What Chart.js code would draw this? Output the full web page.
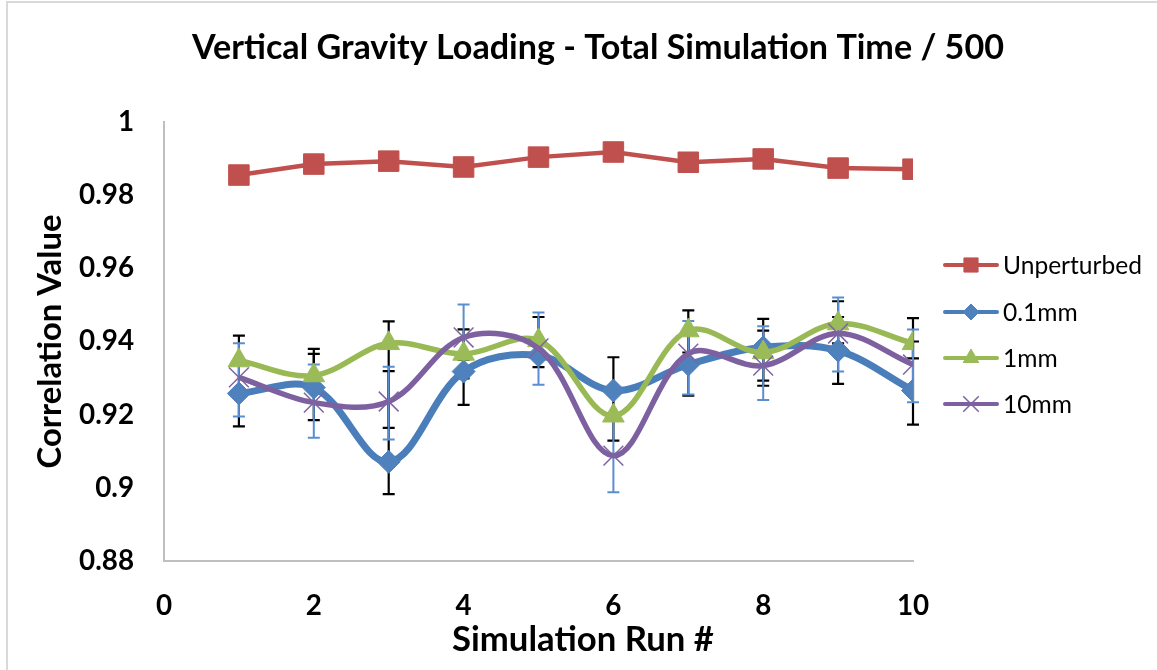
<!DOCTYPE html>
<html>
<head>
<meta charset="utf-8">
<script src="https://cdn.jsdelivr.net/npm/chart.js@4.4.1/dist/chart.umd.min.js"></script>
<style>
html,body{margin:0;padding:0;background:#ffffff;}
#wrap{width:1157px;height:670px;position:relative;overflow:hidden;}
canvas{display:block;}
</style>
</head>
<body>
<div id="wrap"><canvas id="c" width="1157" height="670"></canvas></div>
<script>
// ---------- data ----------
const runs = [1, 2, 3, 4, 5, 6, 7, 8, 9, 10];
const seriesNames = ['Unperturbed', '0.1mm', '1mm', '10mm'];
const unperturbed = [0.9855, 0.9885, 0.9893, 0.9877, 0.9904, 0.9918, 0.9890, 0.9899, 0.9874, 0.9871];
const mm01 = [0.9258, 0.9274, 0.9071, 0.9318, 0.9362, 0.9266, 0.9337, 0.9384, 0.9375, 0.9266];
const mm1 = [0.9348, 0.9307, 0.9395, 0.9366, 0.9403, 0.9197, 0.9430, 0.9370, 0.9449, 0.9395];
const mm10 = [0.9302, 0.9233, 0.9236, 0.9411, 0.9381, 0.9088, 0.9367, 0.9334, 0.9422, 0.9337];
// error bars (upper / lower ends)
const errBlueHigh = [0.9395, 0.9337, 0.9331, 0.9501, 0.9479, 0.9186, 0.9456, 0.9442, 0.9520, 0.9433];
const errBlueLow  = [0.9195, 0.9137, 0.9132, 0.9310, 0.9282, 0.8988, 0.9255, 0.9240, 0.9318, 0.9234];
const errBlackHigh = [0.9416, 0.9380, 0.9455, 0.9433, 0.9467, 0.9357, 0.9485, 0.9462, 0.9510, 0.9464];
const errBlackLow  = [0.9168, 0.9270, 0.8983, 0.9227, 0.9330, 0.9129, 0.9252, 0.9279, 0.9284, 0.9173];
const errBlack2High = [null, 0.9366, 0.9319, 0.9350, null, null, 0.9433, 0.9430, 0.9467, 0.9400];
const errBlack2Low  = [null, 0.9185, 0.9164, 0.9299, null, null, 0.9370, 0.9293, 0.9395, 0.9354];
const yTicks = [0.88, 0.9, 0.92, 0.94, 0.96, 0.98, 1];
const xTicks = [0, 2, 4, 6, 8, 10];
const chartTitle = 'Vertical Gravity Loading - Total Simulation Time / 500';
const xTitle = 'Simulation Run #';
const yTitle = 'Correlation Value';

// ---------- styles ----------
const FAMILY = 'Lato, "Open Sans", sans-serif';
function fitSize(text, weight, target) {
  const c = document.createElement('canvas').getContext('2d');
  c.font = weight + ' 100px ' + FAMILY;
  return 100 * target / c.measureText(text).width;
}
const titleSize = fitSize(chartTitle, 'bold', 812);
const xTitleSize = fitSize(xTitle, 'bold', 262);
const yTitleSize = fitSize(yTitle, 'bold', 254);
const tickSize = fitSize('0.98', 'bold', 55);
const legendSize = fitSize('Unperturbed', 'normal', 139);

const C_RED = '#C0504D', C_BLUE = '#4A7EBB', C_GREEN = '#98B954', C_PURPLE = '#7D60A0';
const C_BLUE_M = '#4F81BD', C_GREEN_M = '#9BBB59', C_PURPLE_M = '#8064A2';

const styles = {
  'Unperturbed': {borderColor: C_RED, borderWidth: 4.5, pointStyle: 'rect', pointRadius: 14.5, pointBackgroundColor: C_RED, pointBorderColor: C_RED, pointBorderWidth: 1, tension: 0},
  '0.1mm': {borderColor: C_BLUE, borderWidth: 7, pointStyle: 'rectRot', pointRadius: 11.5, pointBackgroundColor: C_BLUE_M, pointBorderColor: C_BLUE_M, pointBorderWidth: 1, tension: 0.35},
  '1mm': {borderColor: C_GREEN, borderWidth: 5.5, pointStyle: 'triangle', pointRadius: 12.5, pointBackgroundColor: C_GREEN_M, pointBorderColor: C_GREEN_M, pointBorderWidth: 1, tension: 0.35},
  '10mm': {borderColor: C_PURPLE, borderWidth: 5.5, pointStyle: 'crossRot', pointRadius: 14, pointBackgroundColor: C_PURPLE_M, pointBorderColor: C_PURPLE_M, pointBorderWidth: 1.5, tension: 0.35}
};
const valuesByName = {'Unperturbed': unperturbed, '0.1mm': mm01, '1mm': mm1, '10mm': mm10};

// later series drawn on top -> pass in reverse order
const datasets = seriesNames.slice().reverse().map(name => Object.assign({
  label: name,
  data: runs.map((r, i) => ({x: r, y: valuesByName[name][i]})),
  fill: false,
  cubicInterpolationMode: 'default'
}, styles[name]));

const deco = {
  id: 'deco',
  beforeDatasetsDraw(chart) {
    const {ctx, scales: {x, y}} = chart;
    function bars(hi, lo, color, w) {
      ctx.save();
      ctx.strokeStyle = color;
      ctx.lineWidth = w;
      runs.forEach((r, i) => {
        if (hi[i] == null) return;
        const px = x.getPixelForValue(r);
        const y1 = y.getPixelForValue(hi[i]);
        const y2 = y.getPixelForValue(lo[i]);
        ctx.beginPath();
        ctx.moveTo(px, y1); ctx.lineTo(px, y2);
        ctx.moveTo(px - 6, y1); ctx.lineTo(px + 6, y1);
        ctx.moveTo(px - 6, y2); ctx.lineTo(px + 6, y2);
        ctx.stroke();
      });
      ctx.restore();
    }
    bars(errBlack2High, errBlack2Low, '#000000', 2.2);
    bars(errBlackHigh, errBlackLow, '#000000', 2.2);
    bars(errBlueHigh, errBlueLow, '#5B8ED0', 2);
  },
  afterDraw(chart) {
    const ctx = chart.ctx;
    ctx.save();
    // outer frame (top and left edges visible)
    ctx.strokeStyle = '#D9D9D9';
    ctx.lineWidth = 2;
    ctx.strokeRect(7, 2, 1200, 720);
    // title
    ctx.fillStyle = '#000000';
    ctx.textAlign = 'center';
    ctx.textBaseline = 'middle';
    ctx.font = 'bold ' + titleSize + 'px ' + FAMILY;
    ctx.fillText(chartTitle, 598, 48);
    // x axis title
    ctx.font = 'bold ' + xTitleSize + 'px ' + FAMILY;
    ctx.fillText(xTitle, 583, 640);
    // legend
    const legendY = [265, 312, 358, 404];
    ctx.font = legendSize + 'px ' + FAMILY;
    ctx.textAlign = 'left';
    seriesNames.forEach((name, i) => {
      const st = styles[name];
      const ly = legendY[i];
      ctx.strokeStyle = st.borderColor;
      ctx.lineWidth = 4;
      ctx.lineCap = 'round';
      ctx.beginPath();
      ctx.moveTo(945, ly); ctx.lineTo(997, ly);
      ctx.stroke();
      ctx.lineCap = 'butt';
      ctx.fillStyle = st.pointBackgroundColor;
      ctx.strokeStyle = st.pointBorderColor;
      ctx.lineWidth = st.pointBorderWidth;
      let r = st.pointRadius;
      if (name === 'Unperturbed') r = 10;
      if (name === '0.1mm') r = 8;
      if (name === '1mm') r = 9;
      if (name === '10mm') r = 11;
      Chart.helpers.drawPoint(ctx, {pointStyle: st.pointStyle, radius: r, rotation: 0, borderWidth: st.pointBorderWidth}, 971, ly);
      ctx.fillStyle = '#000000';
      ctx.fillText(name, 1003, ly + 1);
    });
    ctx.restore();
  }
};

new Chart(document.getElementById('c'), {
  type: 'line',
  data: {datasets},
  options: {
    responsive: false,
    animation: false,
    devicePixelRatio: 1,
    layout: {padding: {left: 0, right: 244, top: 122, bottom: 0}},
    plugins: {legend: {display: false}, title: {display: false}, tooltip: {enabled: false}},
    scales: {
      x: {
        type: 'linear', min: 0, max: 10,
        afterBuildTicks(scale) { scale.ticks = xTicks.map(v => ({value: v})); },
        afterFit(scale) { scale.height = 109; },
        grid: {display: true, color: 'rgba(0,0,0,0)', drawTicks: false},
        border: {display: true, color: '#BFBFBF', width: 2},
        ticks: {padding: 28, color: '#000000', font: {family: FAMILY, weight: 'bold', size: tickSize}, maxRotation: 0}
      },
      y: {
        type: 'linear', min: 0.88, max: 1,
        afterBuildTicks(scale) { scale.ticks = yTicks.map(v => ({value: v})); },
        afterFit(scale) { scale.width = 164; },
        grid: {display: true, color: 'rgba(0,0,0,0)', drawTicks: false},
        border: {display: true, color: '#BFBFBF', width: 2},
        ticks: {padding: 30, color: '#000000', font: {family: FAMILY, weight: 'bold', size: tickSize},
          callback: v => String(+v.toFixed(2))},
        title: {display: true, text: yTitle, color: '#000000', padding: {top: 31, bottom: 0},
          font: {family: FAMILY, weight: 'bold', size: yTitleSize}}
      }
    }
  },
  plugins: [deco]
});
</script>
</body>
</html>
